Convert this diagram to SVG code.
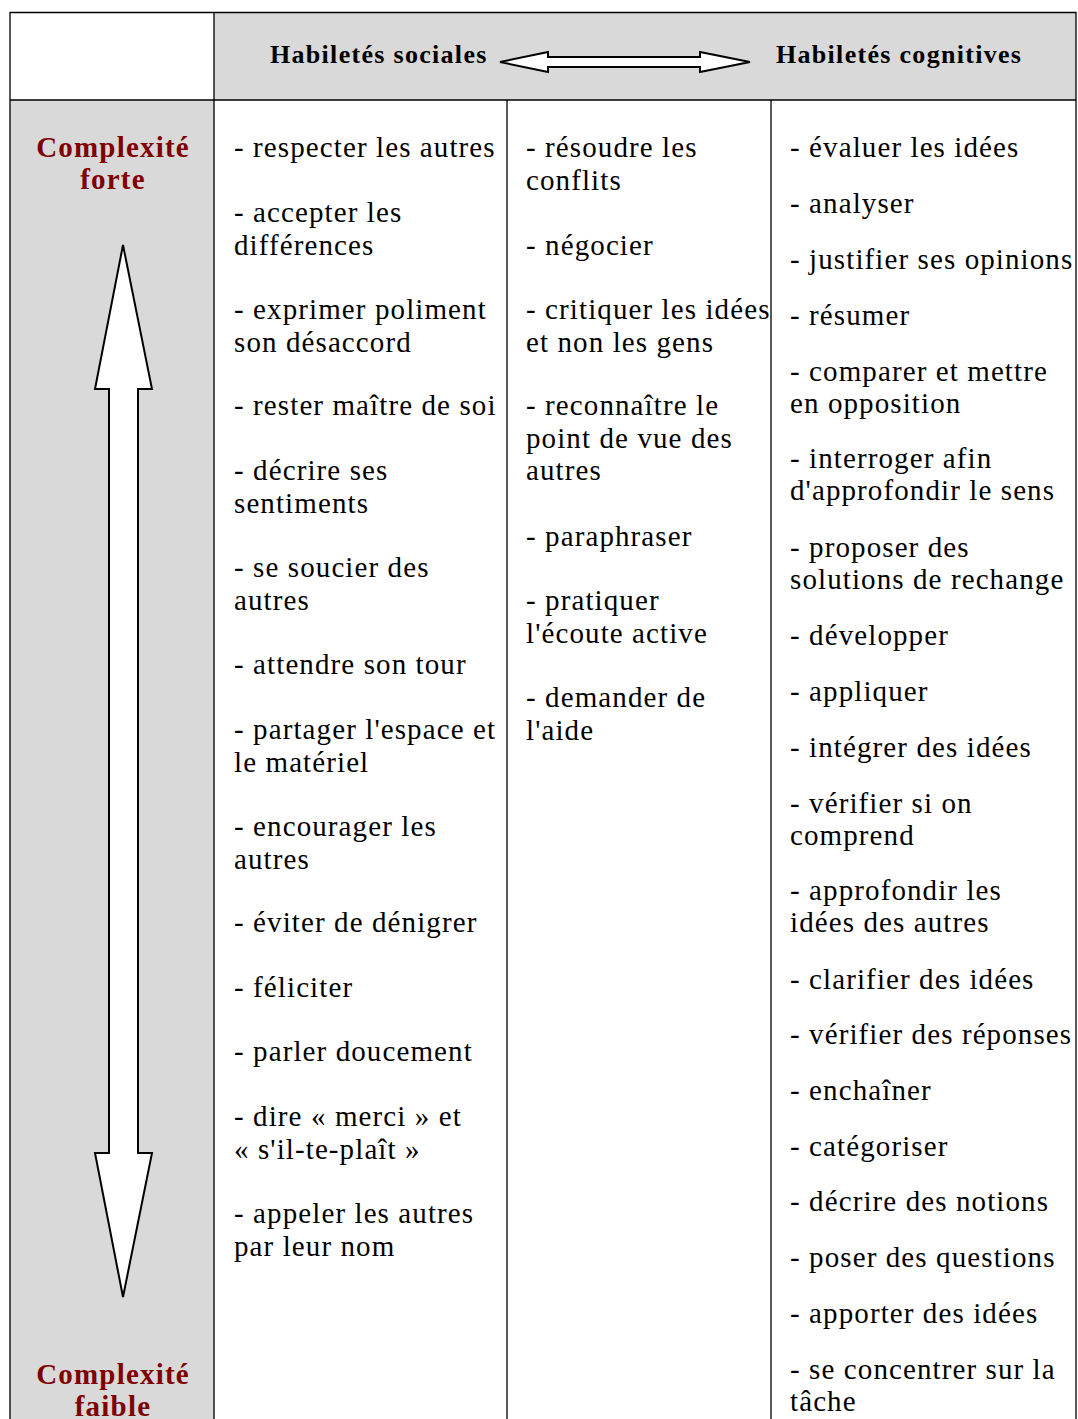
<svg xmlns="http://www.w3.org/2000/svg" width="1078" height="1419" viewBox="0 0 1078 1419">
  <style>
    .item { font-family: "Liberation Serif", "Times New Roman", serif; font-size: 29px; letter-spacing: 1.1px; fill: #000; }
    .head { font-family: "Liberation Serif", "Times New Roman", serif; font-size: 26px; letter-spacing: 1.3px; font-weight: bold; fill: #000; }
    .cx { font-family: "Liberation Serif", "Times New Roman", serif; font-size: 29px; letter-spacing: 1.2px; font-weight: bold; fill: #7f0000; text-anchor: middle; }
    .grid { stroke: #000; stroke-width: 1.3; fill: none; }
    .arrow { fill: #fff; stroke: #000; stroke-width: 2; stroke-linejoin: miter; }
  </style>

  <rect width="1078" height="1419" fill="#fff"/>

  <!-- table backgrounds and rules -->
  <g id="table">
    <rect x="214" y="12" width="862" height="88" fill="#d9d9d9"/>
    <rect x="10" y="100" width="204" height="1319" fill="#d9d9d9"/>
    <path class="grid" d="M10 1419 V12.5 H1076 V1419 M10 100 H1076 M214 12 V1419 M507 100 V1419 M771 100 V1419"/>
  </g>

  <!-- header -->
  <g id="header-sociales">
    <text class="head" x="270" y="63">Habiletés sociales</text>
  </g>
  <g id="header-cognitives">
    <text class="head" x="776" y="63">Habiletés cognitives</text>
  </g>

  <!-- connectors: double-headed block arrows -->
  <g id="connectors">
    <polygon class="arrow" points="500,62 548,52 548,57 700,57 700,52 750,62 700,72 700,67 548,67 548,72"/>
    <polygon class="arrow" points="123,245 152,389 138,389 138,1153 152,1153 123,1297 95,1153 109,1153 109,389 95,389"/>
  </g>

  <!-- complexity labels -->
  <g id="complexite-forte">
    <text class="cx" x="113" y="157">Complexité<tspan x="113" dy="32">forte</tspan></text>
  </g>
  <g id="complexite-faible">
    <text class="cx" x="113" y="1384">Complexité<tspan x="113" dy="32">faible</tspan></text>
  </g>

  <!-- social skills, first column -->
  <g id="col-sociales-1">
    <text class="item" x="234" y="157">- respecter les autres</text>
    <text class="item" x="234" y="222">- accepter les<tspan x="234" dy="32.5">différences</tspan></text>
    <text class="item" x="234" y="319">- exprimer poliment<tspan x="234" dy="32.5">son désaccord</tspan></text>
    <text class="item" x="234" y="415">- rester maître de soi</text>
    <text class="item" x="234" y="480">- décrire ses<tspan x="234" dy="32.5">sentiments</tspan></text>
    <text class="item" x="234" y="577">- se soucier des<tspan x="234" dy="32.5">autres</tspan></text>
    <text class="item" x="234" y="674">- attendre son tour</text>
    <text class="item" x="234" y="739">- partager l'espace et<tspan x="234" dy="32.5">le matériel</tspan></text>
    <text class="item" x="234" y="836">- encourager les<tspan x="234" dy="32.5">autres</tspan></text>
    <text class="item" x="234" y="932">- éviter de dénigrer</text>
    <text class="item" x="234" y="997">- féliciter</text>
    <text class="item" x="234" y="1061">- parler doucement</text>
    <text class="item" x="234" y="1126">- dire « merci » et<tspan x="234" dy="32.5">« s'il-te-plaît »</tspan></text>
    <text class="item" x="234" y="1223">- appeler les autres<tspan x="234" dy="32.5">par leur nom</tspan></text>
  </g>

  <!-- social skills, second column -->
  <g id="col-sociales-2">
    <text class="item" x="526" y="157">- résoudre les<tspan x="526" dy="32.5">conflits</tspan></text>
    <text class="item" x="526" y="255">- négocier</text>
    <text class="item" x="526" y="319">- critiquer les idées<tspan x="526" dy="32.5">et non les gens</tspan></text>
    <text class="item" x="526" y="415">- reconnaître le<tspan x="526" dy="32.5">point de vue des</tspan><tspan x="526" dy="32.5">autres</tspan></text>
    <text class="item" x="526" y="546">- paraphraser</text>
    <text class="item" x="526" y="610">- pratiquer<tspan x="526" dy="32.5">l'écoute active</tspan></text>
    <text class="item" x="526" y="707">- demander de<tspan x="526" dy="32.5">l'aide</tspan></text>
  </g>

  <!-- cognitive skills -->
  <g id="col-cognitives">
    <text class="item" x="790" y="157">- évaluer les idées</text>
    <text class="item" x="790" y="213">- analyser</text>
    <text class="item" x="790" y="269">- justifier ses opinions</text>
    <text class="item" x="790" y="325">- résumer</text>
    <text class="item" x="790" y="381">- comparer et mettre<tspan x="790" dy="32">en opposition</tspan></text>
    <text class="item" x="790" y="468">- interroger afin<tspan x="790" dy="32">d'approfondir le sens</tspan></text>
    <text class="item" x="790" y="557">- proposer des<tspan x="790" dy="32">solutions de rechange</tspan></text>
    <text class="item" x="790" y="645">- développer</text>
    <text class="item" x="790" y="701">- appliquer</text>
    <text class="item" x="790" y="757">- intégrer des idées</text>
    <text class="item" x="790" y="813">- vérifier si on<tspan x="790" dy="32">comprend</tspan></text>
    <text class="item" x="790" y="900">- approfondir les<tspan x="790" dy="32">idées des autres</tspan></text>
    <text class="item" x="790" y="989">- clarifier des idées</text>
    <text class="item" x="790" y="1044">- vérifier des réponses</text>
    <text class="item" x="790" y="1100">- enchaîner</text>
    <text class="item" x="790" y="1156">- catégoriser</text>
    <text class="item" x="790" y="1211">- décrire des notions</text>
    <text class="item" x="790" y="1267">- poser des questions</text>
    <text class="item" x="790" y="1323">- apporter des idées</text>
    <text class="item" x="790" y="1379">- se concentrer sur la<tspan x="790" dy="32">tâche</tspan></text>
  </g>
</svg>
